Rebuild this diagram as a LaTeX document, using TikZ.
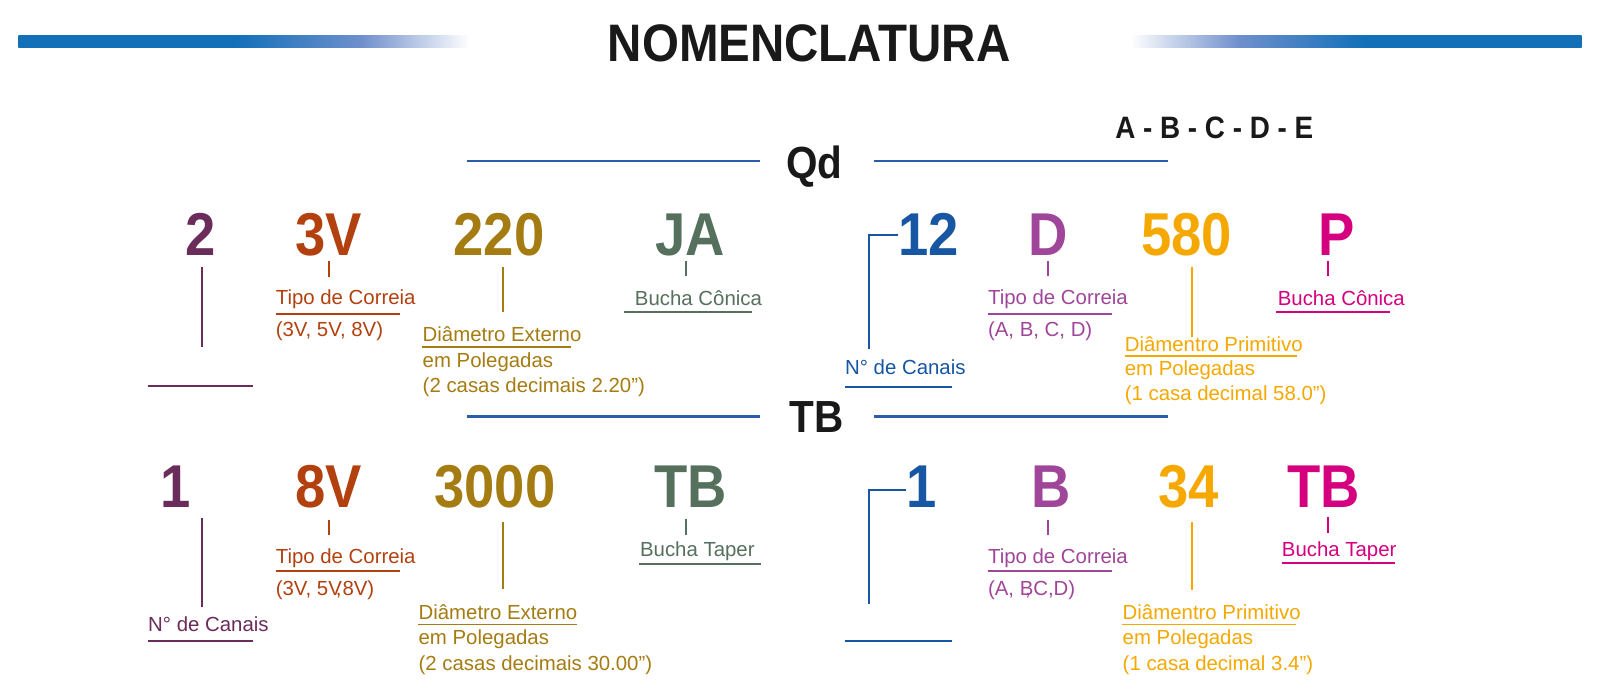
\documentclass[tikz,border=0pt]{standalone}
\usepackage{fontspec}
\setmainfont{Liberation Sans}
\newfontfamily\numfont[FakeStretch=0.9]{Liberation Sans}
\usetikzlibrary{calc}

\definecolor{barblue}{HTML}{1170B8}
\definecolor{barmid}{HTML}{6F8FCC}
\definecolor{ruleblue}{HTML}{2A5EA8}
\definecolor{plum}{HTML}{6A2C5A}
\definecolor{rust}{HTML}{B3410F}
\definecolor{olive}{HTML}{A57C12}
\definecolor{sage}{HTML}{56705E}
\definecolor{navy}{HTML}{1656A3}
\definecolor{orchid}{HTML}{A0469A}
\definecolor{amber}{HTML}{F5A800}
\definecolor{magenta}{HTML}{D5007F}

\pgfdeclarehorizontalshading{fadeout}{100bp}{color(0bp)=(barblue); color(25bp)=(barblue);
  color(49bp)=(barblue); color(63bp)=(barmid); color(75bp)=(white); color(100bp)=(white)}
\pgfdeclarehorizontalshading{fadein}{100bp}{color(0bp)=(white); color(25bp)=(white);
  color(37bp)=(barmid); color(51bp)=(barblue); color(75bp)=(barblue); color(100bp)=(barblue)}

\tikzset{
  num/.style={font=\numfont\bfseries\fontsize{43}{43}\selectfont, inner sep=0, anchor=base},
  head/.style={font=\numfont\bfseries\fontsize{32}{32}\selectfont, inner sep=0, anchor=base, black!90},
  lab/.style={font=\fontsize{14.5}{17}\selectfont, inner sep=0, anchor=base west},
  conn/.style={line width=1.4pt},
  rule/.style={line width=1.7pt, ruleblue},
}

\begin{document}
\begin{tikzpicture}[x=0.0255cm, y=-0.0255cm]
\fill[white] (0,0) rectangle (1568,678);
\useasboundingbox (0,0) rectangle (1568,678);

% title and bars
\shade[shading=fadeout] (18,35) rectangle (460,47);
\shade[shading=fadein] (1108,35) rectangle (1550,47);
\node[font=\numfont\bfseries\fontsize{37.5}{37.5}\selectfont, inner sep=0, anchor=base, black!90] (title) at (793,60) {NOMENCLATURA};
\node[font=\numfont\bfseries\fontsize{22}{22}\selectfont, inner sep=0, anchor=base, black!90] (abc) at (1190,136) {A - B - C - D - E};

% Qd
\node[head] (qd) at (798,175) {Qd};
\draw[rule] (458,158) -- (745,158);
\draw[rule] (857,158) -- (1145,158);

\node[num, plum]    (a2)   at (197,250)  {2};
\node[num, rust]    (a3v)  at (322,250)  {3V};
\node[num, olive]   (a220) at (489,250)  {220};
\node[num, sage]    (aja)  at (676,250)  {JA};
\node[num, navy]    (a12)  at (910,250)  {12};
\node[num, orchid]  (ad)   at (1027,250) {D};
\node[num, amber]   (a580) at (1163,250) {580};
\node[num, magenta] (ap)   at (1310,250) {P};

\node[lab, rust]    (a3vl)  at (270,298)  {Tipo de Correia};
\node[lab, rust]    (a3vm)  at (270,330)  {(3V, 5V, 8V)};
\node[lab, olive]   (a220l) at (414,335)  {Diâmetro Externo};
\node[lab, olive]   (a220m) at (414,360)  {em Polegadas};
\node[lab, olive]   (a220n) at (414,385)  {(2 casas decimais 2.20”)};
\node[lab, sage]    (ajal)  at (622,299)  {Bucha Cônica};
\node[lab, navy]    (a12l)  at (828,367)  {N° de Canais};
\node[lab, orchid]  (adl)   at (968,298)  {Tipo de Correia};
\node[lab, orchid]  (adm)   at (968,330)  {(A, B, C, D)};
\node[lab, amber]   (a580l) at (1102,344) {Diâmentro Primitivo};
\node[lab, amber]   (a580m) at (1102,368) {em Polegadas};
\node[lab, amber]   (a580n) at (1102,392) {(1 casa decimal 58.0”)};
\node[lab, magenta] (apl)   at (1252,299) {Bucha Cônica};

% TB
\node[head] (tb) at (800,424) {TB};
\draw[rule] (458,408) -- (745,408);
\draw[rule] (857,408) -- (1145,408);

\node[num, plum]    (b1)    at (172,497)  {1};
\node[num, rust]    (b8v)   at (322,497)  {8V};
\node[num, olive]   (b3000) at (485,497)  {3000};
\node[num, sage]    (btb)   at (677,497)  {TB};
\node[num, navy]    (bn1)   at (903,497)  {1};
\node[num, orchid]  (bb)    at (1030,497) {B};
\node[num, amber]   (b34)   at (1165,497) {34};
\node[num, magenta] (btp)   at (1297,497) {TB};

\node[lab, plum]    (b1l)    at (145,619)  {N° de Canais};
\node[lab, rust]    (b8vl)   at (270,552)  {Tipo de Correia};
\node[lab, rust]    (b8vm)   at (270,584)  {(3V, 5V\kern-0.3em,\kern0.05em8V)};
\node[lab, olive]   (b3000l) at (410,607)  {Diâmetro Externo};
\node[lab, olive]   (b3000m) at (410,632)  {em Polegadas};
\node[lab, olive]   (b3000n) at (410,657)  {(2 casas decimais 30.00”)};
\node[lab, sage]    (btbl)   at (627,545)  {Bucha Taper};
\node[lab, orchid]  (bbl)    at (968,552)  {Tipo de Correia};
\node[lab, orchid]  (bbm)    at (968,584)  {(A, B\kern-0.4em,\kern0.12em C,D)};
\node[lab, amber]   (b34l)   at (1100,607) {Diâmentro Primitivo};
\node[lab, amber]   (b34m)   at (1100,632) {em Polegadas};
\node[lab, amber]   (b34n)   at (1100,657) {(1 casa decimal 3.4”)};
\node[lab, magenta] (btpl)   at (1256,545) {Bucha Taper};

% underlines
\foreach \l/\c/\s/\d/\w in {a3vl/rust/0/10/122, a220l/olive/0/5/146, ajal/sage/-10/7/125,
    a12l/navy/0/12/105, adl/orchid/0/10/122, a580l/amber/0/5/169, apl/magenta/-2/7/112,
    b1l/plum/0/9/103, b8vl/rust/0/8/122, b3000l/olive/0/5/155, btbl/sage/-1/8/120,
    bbl/orchid/0/8/122, b34l/amber/0/5/170, btpl/magenta/0/7/111}
  \draw[conn, \c] ($(\l.base west)+(\s,\d)$) -- ++(\w,0);
\draw[conn, plum] (145,378) -- (248,378);
\draw[conn, navy] (828,628) -- (933,628);

% ticks
\foreach \x/\a/\b/\c in {198/262/340/plum, 322/256/271/rust, 493/262/306/olive, 672/256/270/sage,
    1027/256/270/orchid, 1168/262/330/amber, 1301/256/270/magenta,
    198/508/595/plum, 322/510/524/rust, 493/512/577/olive, 672/509/524/sage,
    1027/510/524/orchid, 1168/512/578/amber, 1301/507/522/magenta}
  \draw[conn, \c] (\x,\a) -- (\x,\b);
\draw[conn, navy] (a12.west |- 0,230) -- (852,230) -- (852,342);
\draw[conn, navy] (bn1.west |- 0,480) -- (852,480) -- (852,592);
\end{tikzpicture}
\end{document}
